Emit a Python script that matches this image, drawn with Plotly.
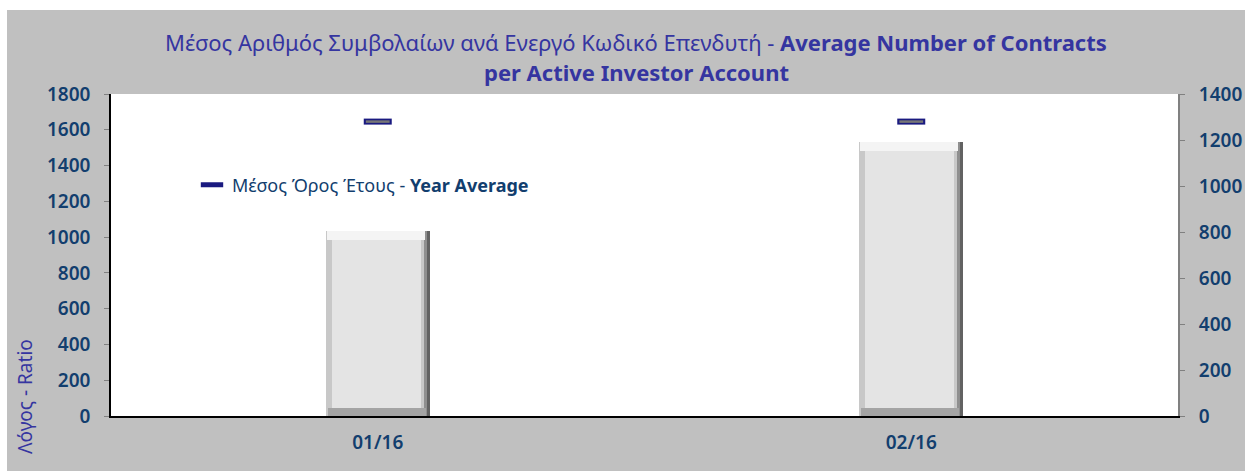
import plotly.graph_objects as go

# ---- data ----
categories = ["01/16", "02/16"]
contracts_per_account = [1035, 1532]      # bars, left axis
year_average = [1280, 1280]               # markers, right axis
left_ticks = list(range(0, 1801, 200))
right_ticks = list(range(0, 1401, 200))

title_line1 = "Μέσος Αριθμός Συμβολαίων ανά Ενεργό Κωδικό Επενδυτή - <b>Average Number of Contracts</b>"
title_line2 = "<b>per Active Investor Account</b>"
legend_name = "Μέσος Όρος Έτους - <b>Year Average</b>"
y_title = "Λόγος - Ratio"

# ---- style ----
FONT = "Noto Sans"
TICK_COL = "#123E6E"
TITLE_COL = "#3535A0"
GRAY = "#C0C0C0"
W = 0.195          # bar width (category units)
PX = W / 104       # one pixel in category units
UNIT = 1800 / 322  # one pixel in left-axis units

fig = go.Figure()

# layered bars to imitate bevelled look
n = len(categories)
fig.add_trace(go.Bar(x=categories, y=contracts_per_account, width=W, offset=-W / 2,
                     marker=dict(color="#626262", line=dict(width=0)),
                     showlegend=False, hoverinfo="skip"))
fig.add_trace(go.Bar(x=categories, y=contracts_per_account, width=W - 3 * PX, offset=-W / 2,
                     marker=dict(color="#8f8f8f", line=dict(width=0)),
                     showlegend=False, hoverinfo="skip"))
fig.add_trace(go.Bar(x=categories, y=contracts_per_account, width=W - 6 * PX, offset=-W / 2,
                     marker=dict(color="#c8c8c8", line=dict(width=0)),
                     showlegend=False, hoverinfo="skip"))
fig.add_trace(go.Bar(x=categories, y=[8 * UNIT] * n, base=[0] * n,
                     width=W - 6 * PX, offset=-W / 2 + 2 * PX,
                     marker=dict(color="#a4a4a4", line=dict(width=0)),
                     showlegend=False, hoverinfo="skip"))
fig.add_trace(go.Bar(x=categories, y=[9 * UNIT] * n,
                     base=[v - 9 * UNIT for v in contracts_per_account],
                     width=W - 6 * PX, offset=-W / 2 + 1 * PX,
                     marker=dict(color="#f4f4f4", line=dict(width=0)),
                     showlegend=False, hoverinfo="skip"))
fig.add_trace(go.Bar(x=categories, y=[v - 17 * UNIT for v in contracts_per_account],
                     base=[8 * UNIT] * n,
                     width=W - 15 * PX, offset=-W / 2 + 6 * PX,
                     marker=dict(color="#e4e4e4", line=dict(width=0)),
                     showlegend=False, hoverinfo="text", text=[str(v) for v in contracts_per_account],
                     textposition="none"))

# year-average markers on the secondary axis
fig.add_trace(go.Scatter(x=categories, y=year_average, yaxis="y2", mode="markers",
                         name=legend_name,
                         marker=dict(symbol="line-ew", size=20, color="#1a1a80",
                                     line=dict(width=6, color="#1a1a80"))))
fig.add_trace(go.Scatter(x=categories, y=year_average, yaxis="y2", mode="markers",
                         showlegend=False, hoverinfo="skip",
                         marker=dict(symbol="line-ew", size=17, color="#777777",
                                     line=dict(width=2.5, color="#777777"))))

L, R, T, B = 111, 75, 94, 56
pw, ph = 1253 - L - R, 472 - T - B

def px_x(p):
    return (p - L) / pw

def px_y(p):
    return (472 - B - p) / ph

fig.update_layout(
    width=1253, height=472,
    margin=dict(l=L, r=R, t=T, b=B, pad=0),
    paper_bgcolor="white", plot_bgcolor="white",
    barmode="overlay", bargap=0,
    font=dict(family=FONT, color=TICK_COL, size=19),
    showlegend=True,
    legend=dict(x=px_x(192), y=px_y(185), xanchor="left", yanchor="middle",
                bgcolor="rgba(0,0,0,0)", font=dict(size=18, color=TICK_COL, family=FONT)),
    xaxis=dict(type="category", range=[-0.5, 1.5], showline=True, linecolor="black",
               linewidth=1.5, ticks="", showgrid=False, zeroline=False,
               tickfont=dict(size=19, color=TICK_COL, weight=600), ticklabelstandoff=8),
    yaxis=dict(range=[0, 1800], tickvals=left_ticks, showline=True, linecolor="black",
               linewidth=1.5, ticks="outside", ticklen=5, tickcolor="#808080",
               showgrid=False, zeroline=False,
               tickfont=dict(size=19, color=TICK_COL, weight=600),
               ticklabelstandoff=10),
    yaxis2=dict(range=[0, 1400], tickvals=right_ticks, overlaying="y", side="right",
                showline=True, linecolor="#808080", linewidth=2, ticks="outside",
                ticklen=5, tickcolor="#808080", showgrid=False, zeroline=False,
                tickfont=dict(size=19, color=TICK_COL, weight=600), ticklabelstandoff=10),
    shapes=[
        dict(type="rect", xref="paper", yref="paper", layer="below",
             x0=px_x(7), x1=px_x(1245), y0=px_y(471), y1=px_y(10),
             fillcolor=GRAY, line=dict(width=0)),
        dict(type="rect", xref="paper", yref="paper", layer="below",
             x0=0, x1=1, y0=0, y1=1, fillcolor="white", line=dict(width=0)),
    ],
    annotations=[
        dict(text=title_line1, xref="paper", yref="paper", x=px_x(636), y=px_y(42),
             xanchor="center", yanchor="middle", showarrow=False,
             font=dict(size=22, color=TITLE_COL, family=FONT)),
        dict(text=title_line2, xref="paper", yref="paper", x=px_x(636), y=px_y(72),
             xanchor="center", yanchor="middle", showarrow=False,
             font=dict(size=22, color=TITLE_COL, family=FONT)),
        dict(text=y_title, xref="paper", yref="paper", x=px_x(25), y=px_y(397),
             xanchor="center", yanchor="middle", showarrow=False, textangle=-90,
             font=dict(size=19, color=TITLE_COL, family=FONT)),
    ],
)

fig.write_html("out.html", config={"displayModeBar": False},
               post_script="document.body.style.margin='0';document.body.style.overflow='hidden';")
